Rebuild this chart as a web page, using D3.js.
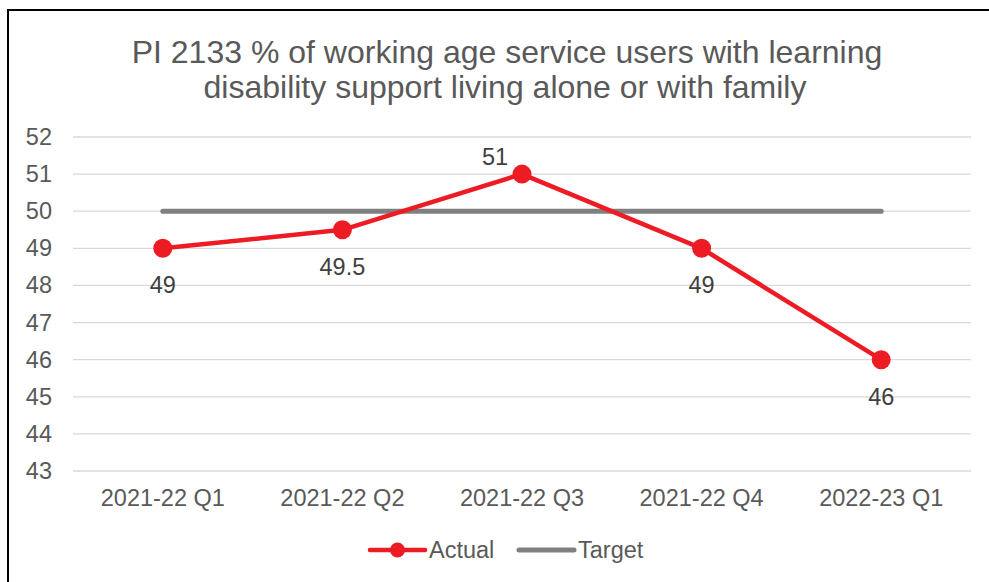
<!DOCTYPE html>
<html>
<head>
<meta charset="utf-8">
<script src="https://cdn.jsdelivr.net/npm/d3@7"></script>
<style>
  html, body { margin: 0; padding: 0; background: #fff; }
  svg { display: block; font-family: "Liberation Sans", Arial, sans-serif; }
</style>
</head>
<body>
<svg id="chart" width="989" height="582"></svg>
<script>
// Quarterly reporting periods
const categories = ["2021-22 Q1", "2021-22 Q2", "2021-22 Q3", "2021-22 Q4", "2022-23 Q1"];
// Actual % of working age service users living alone or with family
const actual = [49, 49.5, 51, 49, 46];
// Target level for each quarter
const target = [50, 50, 50, 50, 50];
// Y-axis tick values
const yTicks = [43, 44, 45, 46, 47, 48, 49, 50, 51, 52];
// Label placement of each actual value (above / below the point)
const labelPos = ["below", "below", "above", "below", "below"];

const svg = d3.select("#chart");
const plot = { left: 73, right: 971, top: 137, bottom: 471 };
const FS = 23.5;

// Outer chart border (extends past the right and bottom edges)
svg.append("rect")
  .attr("x", 8).attr("y", 10)
  .attr("width", 1000).attr("height", 600)
  .attr("fill", "#fff").attr("stroke", "#000").attr("stroke-width", 2);

// Title
const title = svg.append("text")
  .attr("text-anchor", "middle")
  .attr("fill", "#595959")
  .style("font-size", "32px");
title.append("tspan").attr("x", 507).attr("y", 63)
  .text("PI 2133 % of working age service users with learning");
title.append("tspan").attr("x", 505).attr("y", 98)
  .text("disability support living alone or with family");

const x = d3.scaleBand().domain(categories).range([plot.left, plot.right]);
const y = d3.scaleLinear().domain([43, 52]).range([plot.bottom, plot.top]);
const cx = d => x(d) + x.bandwidth() / 2;

// Horizontal gridlines
svg.append("g")
  .selectAll("line").data(yTicks).join("line")
  .attr("x1", plot.left).attr("x2", plot.right)
  .attr("y1", d => y(d)).attr("y2", d => y(d))
  .attr("stroke", "#d9d9d9").attr("stroke-width", 1.3);

// Y axis labels
const yAxis = svg.append("g")
  .attr("transform", `translate(${plot.left},0)`)
  .call(d3.axisLeft(y).tickValues(yTicks).tickSize(0).tickPadding(21));
yAxis.select(".domain").remove();
yAxis.selectAll("text")
  .attr("fill", "#595959")
  .style("font-size", FS + "px")
  .style("font-family", "Liberation Sans, Arial, sans-serif");

// X axis labels
const xAxis = svg.append("g")
  .attr("transform", `translate(0,${plot.bottom})`)
  .call(d3.axisBottom(x).tickSize(0).tickPadding(18));
xAxis.select(".domain").remove();
xAxis.selectAll("text")
  .attr("fill", "#595959")
  .style("font-size", FS + "px")
  .style("font-family", "Liberation Sans, Arial, sans-serif");

const line = d3.line().x((d, i) => cx(categories[i])).y(d => y(d));

// Target line
svg.append("path")
  .datum(target)
  .attr("d", line)
  .attr("fill", "none")
  .attr("stroke", "#808080")
  .attr("stroke-width", 5)
  .attr("stroke-linecap", "round");

// Actual line
svg.append("path")
  .datum(actual)
  .attr("d", line)
  .attr("fill", "none")
  .attr("stroke", "#ED1C24")
  .attr("stroke-width", 4.5)
  .attr("stroke-linejoin", "round");

// Actual markers
svg.append("g")
  .selectAll("circle").data(actual).join("circle")
  .attr("cx", (d, i) => cx(categories[i]))
  .attr("cy", d => y(d))
  .attr("r", 9.5)
  .attr("fill", "#ED1C24");

// Data labels (the label above the peak sits up and to the left of its point)
svg.append("g")
  .selectAll("text").data(actual).join("text")
  .attr("x", (d, i) => cx(categories[i]) + (labelPos[i] === "above" ? -27 : 0))
  .attr("y", (d, i) => labelPos[i] === "above" ? y(d) - 9 : y(d) + 45)
  .attr("text-anchor", "middle")
  .attr("fill", "#404040")
  .style("font-size", FS + "px")
  .text(d => d);

// Legend
const legend = svg.append("g");
const legendItems = [
  { name: "Actual", color: "#ED1C24", width: 4.5, marker: true, x0: 370 },
  { name: "Target", color: "#808080", width: 5, marker: false, x0: 519 }
];
const ly = 550;
legendItems.forEach(it => {
  legend.append("line")
    .attr("x1", it.x0).attr("x2", it.x0 + 55)
    .attr("y1", ly).attr("y2", ly)
    .attr("stroke", it.color).attr("stroke-width", it.width)
    .attr("stroke-linecap", "round");
  if (it.marker) {
    legend.append("circle")
      .attr("cx", it.x0 + 27.5).attr("cy", ly).attr("r", 7.5)
      .attr("fill", it.color);
  }
  legend.append("text")
    .attr("x", it.x0 + 59).attr("y", ly + 8)
    .attr("fill", "#595959")
    .style("font-size", FS + "px")
    .text(it.name);
});
</script>
</body>
</html>
